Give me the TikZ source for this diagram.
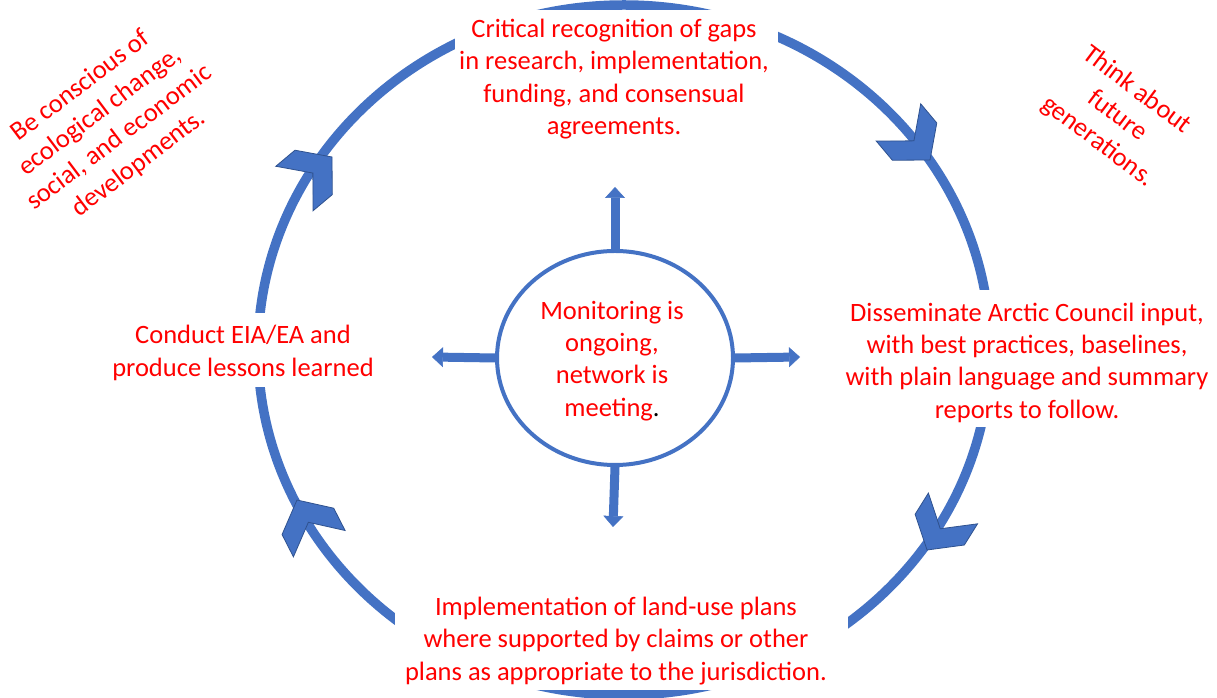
\documentclass[tikz,border=0pt]{standalone}
\usepackage{fontspec}
\setmainfont{Carlito}
\usetikzlibrary{arrows.meta,shapes.geometric}
\definecolor{ringblue}{HTML}{4472C4}
\definecolor{edgeblue}{HTML}{2F528F}
\definecolor{txtred}{HTML}{FF0000}
\begin{document}
\begin{tikzpicture}[x=1pt,y=1pt,
  lbl/.style={text=txtred, font=\fontsize{26.5}{32.3}\selectfont, align=center, inner sep=0pt},
  ring/.style={draw=ringblue, line width=9.5pt},
  chevstyle/.style={fill=ringblue, draw=edgeblue, line width=0.8pt, line join=miter},
  mask/.style={fill=white},
  spoke/.style={draw=ringblue, line width=9pt, -{Triangle[width=20pt,length=11pt,line width=0.5pt]}},
  monitor/.style={ellipse, draw=ringblue, line width=4pt, fill=white, minimum width=236pt, minimum height=214pt, inner sep=0pt},
  chev/.pic={\filldraw[chevstyle] (0,0) -- (-24,29) -- (-49,29) -- (-25,0) -- (-49,-29) -- (-24,-29) -- cycle;}
]
\useasboundingbox (0,0) rectangle (1217,698);
\fill[white] (0,0) rectangle (1217,698);

% outer cycle ring
\draw[ring] (624,348) ellipse [x radius=366, y radius=345];

% white boxes behind the four stage texts
\fill[mask] (455,548) rectangle (778,688);
\fill[mask] (840,271) rectangle (1217,408);
\fill[mask] (103,311) rectangle (383,385);
\fill[mask] (395,8) rectangle (848,108);

% chevron arrowheads on the ring
\pic[rotate=-50] at (930,538) {chev};
\pic[rotate=-122] at (927,148) {chev};
\pic[rotate=117] at (297,198) {chev};
\pic[rotate=40] at (332,541) {chev};

% stage texts
\node[lbl] (gaps) at (614,619) {Critical recognition of gaps\\in research, implementation,\\funding, and consensual\\agreements.};
\node[lbl] (diss) at (1027,335.5) {Disseminate Arctic Council input,\\with best practices, baselines,\\with plain language and summary\\reports to follow.};
\node[lbl] (impl) at (616,57) {Implementation of land-use plans\\where supported by claims or other\\plans as appropriate to the jurisdiction.};
\node[lbl] (eia) at (243,345) {Conduct EIA/EA and\\produce lessons learned};

% side notes
\node[lbl, rotate=37] (eco) at (110,573) {Be conscious of\\ecological change,\\social, and economic\\developments.};
\node[lbl, rotate=-37] (future) at (1117,582) {Think about\\future\\generations.};

% central monitoring ellipse and spokes
\node[monitor] (mon) at (615,340) {};
\node[lbl] (montext) at (612,337) {Monitoring is\\ongoing,\\network is\\meeting\textcolor{black}{.}};
\coordinate (tipN) at (615,511);
\coordinate (tipS) at (613,171);
\coordinate (tipW) at (432,341);
\coordinate (tipE) at (800,341);
\draw[spoke] (mon.north) -- (tipN);
\draw[spoke] (mon.south) -- (tipS);
\draw[spoke] (mon.west) -- (tipW);
\draw[spoke] (mon.east) -- (tipE);
\end{tikzpicture}
\end{document}
